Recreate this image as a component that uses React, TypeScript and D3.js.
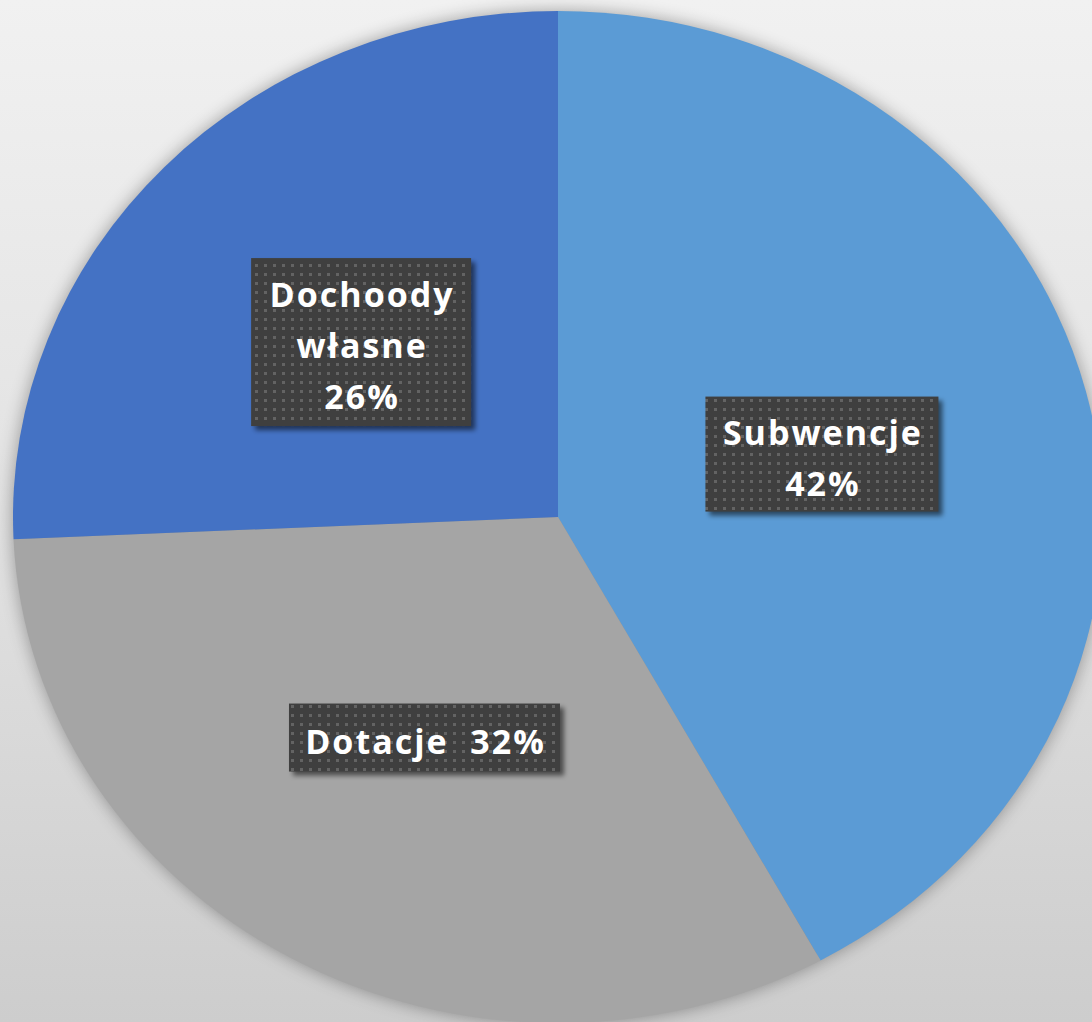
import React from "react";
import * as d3 from "d3";

const categories = ["Subwencje", "Dotacje", "Dochoody własne"];
const values = [42.0, 32.3, 25.7];
const labelLines = [["Subwencje", "42%"], ["Dotacje  32%"], ["Dochoody", "własne", "26%"]];
const colors = ["#5B9BD5", "#A5A5A5", "#4472C4"];

const W = 1092;
const H = 1022;
const CX = 558;
const CY = 517;
const RX = 545;
const RY = 506;

const boxSizes = [
  [233, 115],
  [271, 68],
  [220, 168],
];

export default function App() {
  const pie = d3.pie<number>().sort(null).value((d) => d);
  const arcs = pie(values);
  const arc = d3.arc<d3.PieArcDatum<number>>().innerRadius(0).outerRadius(RX);
  const sy = RY / RX;
  const lineH = 51;
  const fontSize = 34;

  return (
    <svg
      width={W}
      height={H}
      style={{ position: "absolute", left: 0, top: 0, display: "block" }}
      fontFamily="'Open Sans', Lato, sans-serif"
    >
      <defs>
        <linearGradient id="bg" x1="0" y1="0" x2="0" y2="1">
          <stop offset="0" stopColor="#f1f1f1" />
          <stop offset="0.5" stopColor="#e2e2e2" />
          <stop offset="1" stopColor="#cdcdcd" />
        </linearGradient>
        <filter id="pieShadow" x="-10%" y="-10%" width="120%" height="120%">
          <feGaussianBlur in="SourceAlpha" stdDeviation="9" />
          <feComponentTransfer>
            <feFuncA type="linear" slope="0.35" />
          </feComponentTransfer>
        </filter>
        <filter id="boxShadow" x="-20%" y="-20%" width="140%" height="140%">
          <feGaussianBlur in="SourceAlpha" stdDeviation="2.5" />
          <feComponentTransfer>
            <feFuncA type="linear" slope="0.55" />
          </feComponentTransfer>
        </filter>
        <pattern id="dots" width="9" height="9" patternUnits="userSpaceOnUse">
          <rect width="9" height="9" fill="#3f3f3f" />
          <rect x="3" y="3" width="3" height="3" fill="#636363" />
        </pattern>
      </defs>
      <rect width={W} height={H} fill="url(#bg)" />
      <g transform={`translate(${CX},${CY}) scale(1,${sy})`}>
        <g filter="url(#pieShadow)">
          {arcs.map((a, i) => (
            <path key={"s" + i} d={arc(a) || ""} fill="#000" />
          ))}
        </g>
        {arcs.map((a, i) => (
          <path key={categories[i]} d={arc(a) || ""} fill={colors[i]} />
        ))}
      </g>
      {arcs.map((a, i) => {
        const [mx, my] = arc.centroid(a);
        const x = CX + mx;
        const y = CY + my * sy;
        const [bw, bh] = boxSizes[i];
        const lines = labelLines[i];
        const firstBase = y - ((lines.length - 1) * lineH) / 2 + fontSize * 0.47;
        return (
          <g key={"l" + i}>
            <rect x={x - bw / 2 + 4} y={y - bh / 2 + 4} width={bw} height={bh} fill="#000" filter="url(#boxShadow)" />
            <rect x={x - bw / 2} y={y - bh / 2} width={bw} height={bh} fill="url(#dots)" />
            <text textAnchor="middle" fill="#ffffff" fontWeight="bold" fontSize={fontSize} letterSpacing={2} style={{ whiteSpace: "pre" }}>
              {lines.map((t, j) => (
                <tspan key={j} x={x + 1} y={firstBase + j * lineH}>
                  {t}
                </tspan>
              ))}
            </text>
          </g>
        );
      })}
    </svg>
  );
}
